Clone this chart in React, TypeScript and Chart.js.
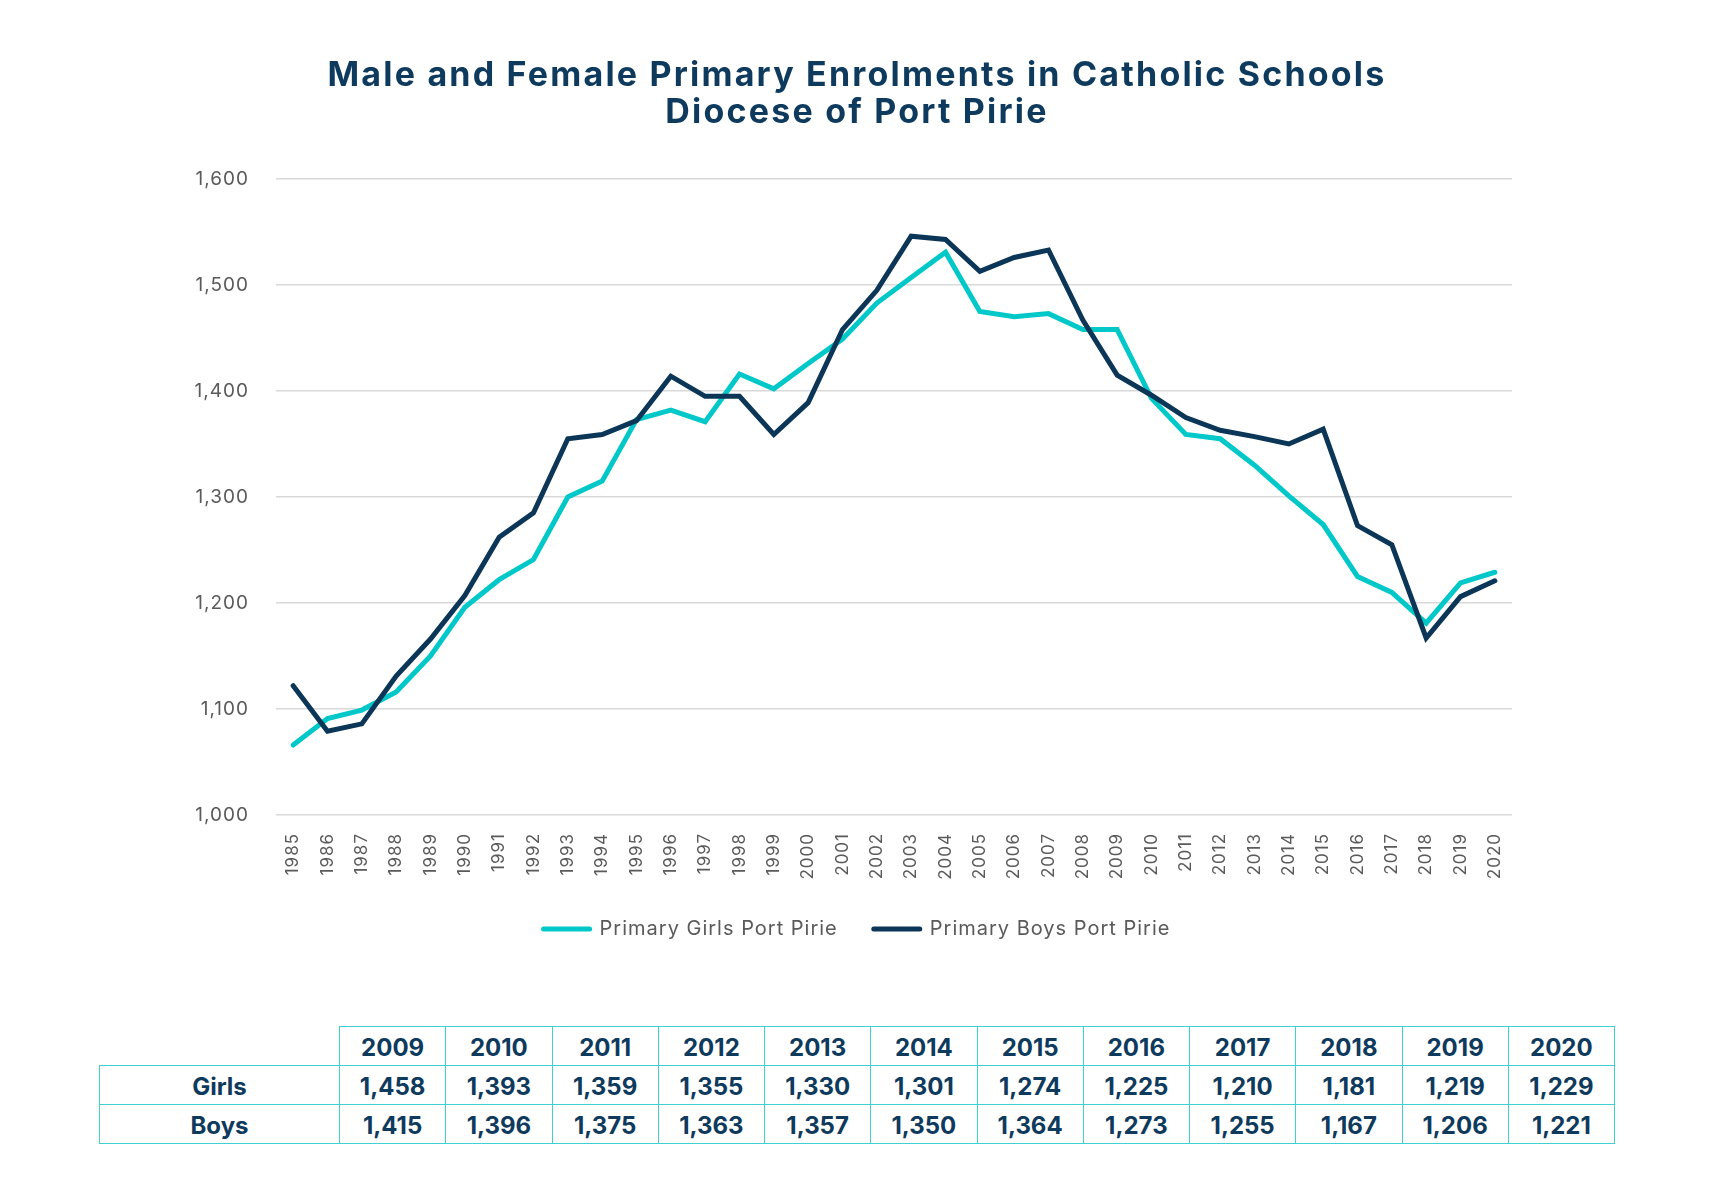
import React, { useEffect, useRef } from "react";
import { Chart, registerables } from "chart.js";

Chart.register(...registerables);

// ---- Data ----
const years = [
  "1985", "1986", "1987", "1988", "1989", "1990", "1991", "1992", "1993", "1994",
  "1995", "1996", "1997", "1998", "1999", "2000", "2001", "2002", "2003", "2004",
  "2005", "2006", "2007", "2008", "2009", "2010", "2011", "2012", "2013", "2014",
  "2015", "2016", "2017", "2018", "2019", "2020",
];

const girls = [
  1066, 1091, 1099, 1116, 1150, 1196, 1222, 1241, 1300, 1315,
  1373, 1382, 1371, 1416, 1402, 1426, 1449, 1483, 1507, 1531,
  1475, 1470, 1473, 1458, 1458, 1393, 1359, 1355, 1330, 1301,
  1274, 1225, 1210, 1181, 1219, 1229,
];

const boys = [
  1122, 1079, 1086, 1131, 1166, 1207, 1262, 1285, 1355, 1359,
  1372, 1414, 1395, 1395, 1359, 1389, 1458, 1495, 1546, 1543,
  1513, 1526, 1533, 1467, 1415, 1396, 1375, 1363, 1357, 1350,
  1364, 1273, 1255, 1167, 1206, 1221,
];

const seriesLabels = ["Primary Girls Port Pirie", "Primary Boys Port Pirie"];
const titleLines = [
  "Male and Female Primary Enrolments in Catholic Schools",
  "Diocese of Port Pirie",
];
const yMin = 1000;
const yMax = 1600;
const yStep = 100;

const tableCount = 12;
const tableYears = years.slice(-tableCount);
const tableRows = [
  { name: "Girls", values: girls.slice(-tableCount) },
  { name: "Boys", values: boys.slice(-tableCount) },
];

// ---- Styles ----
const TEAL = "#00C8C9";
const NAVY = "#0B3657";
const TITLE_NAVY = "#0E3A5D";
const GRID = "#D9D9D9";
const TICK = "#5A5A5A";
const TABLE_BORDER = "#3FD1D1";
const FONT = "Inter, 'Noto Sans', sans-serif";

const spacingPlugin = {
  id: "canvasLetterSpacing",
  beforeUpdate(chart: any) {
    chart.ctx.letterSpacing = "1px";
  },
  beforeDraw(chart: any) {
    chart.ctx.letterSpacing = "1px";
  },
};

export default function App() {
  const ref = useRef<HTMLCanvasElement>(null);

  useEffect(() => {
    if (!ref.current) return;
    const chart = new Chart(ref.current, {
      type: "line",
      plugins: [spacingPlugin],
      data: {
        labels: years,
        datasets: [
          {
            label: seriesLabels[0],
            data: girls,
            borderColor: TEAL,
            backgroundColor: TEAL,
            borderWidth: 5,
            pointRadius: 0,
            tension: 0,
            borderCapStyle: "round",
            borderJoinStyle: "miter",
            order: 1,
          },
          {
            label: seriesLabels[1],
            data: boys,
            borderColor: NAVY,
            backgroundColor: NAVY,
            borderWidth: 5,
            pointRadius: 0,
            tension: 0,
            borderCapStyle: "round",
            borderJoinStyle: "miter",
            order: 0,
          },
        ],
      },
      options: {
        animation: false,
        responsive: false,
        maintainAspectRatio: false,
        layout: { padding: { top: 179, left: 0, right: 0, bottom: 0 } },
        plugins: {
          title: { display: false },
          tooltip: { enabled: false },
          legend: {
            position: "bottom",
            labels: {
              usePointStyle: true,
              pointStyle: "line",
              pointStyleWidth: 46,
              padding: 36,
              color: TICK,
              font: { family: FONT, size: 20 },
              sort: (a: any, b: any) => a.datasetIndex - b.datasetIndex,
              generateLabels: (c: any) => {
                const items = (Chart.defaults.plugins.legend.labels as any).generateLabels(c);
                return items.map((it: any) => {
                  const ds: any = c.data.datasets[it.datasetIndex];
                  return {
                    ...it,
                    strokeStyle: ds.borderColor,
                    fillStyle: ds.borderColor,
                    lineWidth: 5,
                    lineCap: "round",
                  };
                });
              },
            },
          },
        },
        scales: {
          x: {
            offset: true,
            grid: { display: false, offset: true },
            border: { display: false },
            ticks: {
              autoSkip: false,
              minRotation: 90,
              maxRotation: 90,
              padding: 10,
              color: TICK,
              font: { family: FONT, size: 17 },
            },
            afterFit: (s: any) => {
              s.height = 68;
            },
          },
          y: {
            min: yMin,
            max: yMax,
            ticks: {
              stepSize: yStep,
              padding: 27,
              color: TICK,
              font: { family: FONT, size: 19 },
            },
            grid: { color: GRID, lineWidth: 1.5, drawTicks: false },
            border: { display: false },
            afterFit: (s: any) => {
              s.width = 276;
            },
          },
          yRight: {
            position: "right",
            display: true,
            ticks: { display: false },
            grid: { display: false },
            border: { display: false },
            afterFit: (s: any) => {
              s.width = 202;
            },
          },
        },
      } as any,
    });
    return () => chart.destroy();
  }, []);

  const cellBase: React.CSSProperties = {
    border: `1px solid ${TABLE_BORDER}`,
    padding: 0,
    paddingTop: 3,
    height: 35,
    textAlign: "center",
    verticalAlign: "middle",
    fontFamily: FONT,
    fontWeight: 700,
    fontSize: 24,
    color: TITLE_NAVY,
  };

  return (
    <div
      style={{
        position: "absolute",
        left: 0,
        top: 0,
        width: 1714,
        height: 1200,
        background: "#ffffff",
        overflow: "hidden",
      }}
    >
      <canvas
        ref={ref}
        width={1714}
        height={949}
        style={{ position: "absolute", left: 0, top: 0, width: 1714, height: 949 }}
      />
      <div
        style={{
          position: "absolute",
          left: 0,
          top: 56,
          width: 1714,
          textAlign: "center",
          fontFamily: FONT,
          fontWeight: 700,
          fontSize: 34,
          letterSpacing: "2.2px",
          lineHeight: "36.5px",
          color: TITLE_NAVY,
        }}
      >
        {titleLines.map((l) => (
          <div key={l}>{l}</div>
        ))}
      </div>
      <table
        style={{
          position: "absolute",
          left: 99,
          top: 1026,
          borderCollapse: "collapse",
          tableLayout: "fixed",
          width: 1515,
        }}
      >
        <colgroup>
          <col style={{ width: 240 }} />
          {tableYears.map((y) => (
            <col key={y} style={{ width: 106.25 }} />
          ))}
        </colgroup>
        <tbody>
          <tr>
            <td style={{ ...cellBase, border: "none" }}></td>
            {tableYears.map((y) => (
              <td key={y} style={cellBase}>
                {y}
              </td>
            ))}
          </tr>
          {tableRows.map((r) => (
            <tr key={r.name}>
              <td style={cellBase}>{r.name}</td>
              {r.values.map((v, i) => (
                <td key={i} style={cellBase}>
                  {v.toLocaleString("en-US")}
                </td>
              ))}
            </tr>
          ))}
        </tbody>
      </table>
    </div>
  );
}
